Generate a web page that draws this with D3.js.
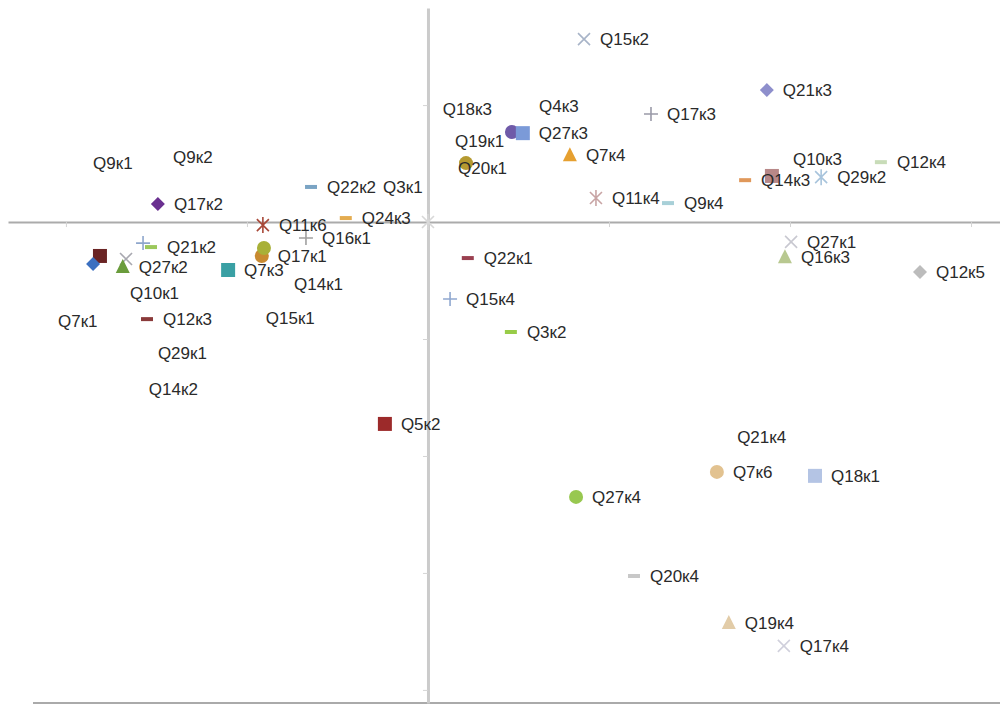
<!DOCTYPE html>
<html>
<head>
<meta charset="utf-8">
<script src="https://cdn.jsdelivr.net/npm/d3@7"></script>
<style>
  body { margin: 0; background: #fff; }
  text { font-family: "Liberation Sans", Arial, sans-serif; font-size: 17px; fill: #2a2a2a; }
</style>
</head>
<body>
<svg id="chart"></svg>
<script>
// point labels, coordinates (dimension 1, dimension 2)
const labels = [
  'Q15к2', 'Q21к3', 'Q17к3', 'Q18к3', 'Q4к3', '', 'Q27к3', 'Q7к4', '', 'Q19к1', 'Q20к1',
  'Q11к4', 'Q9к4', 'Q10к3', 'Q14к3', '', 'Q29к2', 'Q12к4', 'Q27к1', 'Q16к3', 'Q12к5',
  'Q22к1', 'Q15к4', 'Q3к2', 'Q5к2', 'Q27к4', 'Q21к4', 'Q7к6', 'Q18к1', 'Q20к4', 'Q19к4', 'Q17к4',
  'Q9к1', 'Q9к2', 'Q17к2', 'Q22к2', 'Q3к1', 'Q24к3', 'Q11к6', 'Q16к1', 'Q17к1', '',
  'Q7к3', 'Q14к1', 'Q15к1', '', 'Q21к2', '', 'Q27к2', '', '', 'Q10к1', 'Q7к1', 'Q12к3',
  'Q29к1', 'Q14к2', ''
]
const xVals = [
  0.431, 0.936, 0.616, 0.041, 0.307, 0.232, 0.262, 0.392, 0.105, 0.075, 0.083,
  0.464, 0.663, 1.008, 0.876, 0.950, 1.086, 1.251, 1.003, 0.986, 1.359,
  0.110, 0.061, 0.229, -0.119, 0.409, 0.854, 0.798, 1.069, 0.569, 0.831, 0.983,
  -0.925, -0.704, -0.746, -0.323, -0.124, -0.227, -0.456, -0.337, -0.459, -0.453,
  -0.552, -0.370, -0.448, -0.787, -0.765, -0.834, -0.843, -0.906, -0.925, -0.823, -1.022, -0.776,
  -0.746, -0.771, 0.0
]
const yVals = [
  0.782, 0.564, 0.462, 0.483, 0.496, 0.385, 0.380, 0.286, 0.252, 0.346, 0.231,
  0.103, 0.081, 0.269, 0.179, 0.197, 0.192, 0.256, -0.085, -0.150, -0.214,
  -0.154, -0.329, -0.470, -0.863, -1.175, -0.919, -1.068, -1.085, -1.513, -1.714, -1.812,
  0.252, 0.278, 0.077, 0.150, 0.150, 0.017, -0.013, -0.068, -0.145, -0.111,
  -0.205, -0.265, -0.410, -0.090, -0.107, -0.158, -0.192, -0.145, -0.179, -0.303, -0.423, -0.415,
  -0.560, -0.714, 0.0
]
const xTicks = [-1, -0.5, 0.5, 1, 1.5]
const yTicks = [-2, -1.5, -1, -0.5, 0.5]

// marker shape and colour for each point (style, not data)
const markerShapes = [
  'x', 'diamond', 'plus', 'none', 'none', 'circle', 'square', 'triangle', 'circle', 'none', 'none',
  'star', 'dash', 'none', 'dash', 'square', 'star', 'dash', 'x', 'triangle', 'diamond',
  'dash', 'plus', 'dash', 'square', 'circle', 'none', 'circle', 'square', 'dash', 'triangle', 'x',
  'none', 'none', 'diamond', 'dash', 'none', 'dash', 'star', 'plus', 'circle', 'circle',
  'square', 'none', 'none', 'plus', 'dash', 'x', 'triangle', 'square', 'diamond', 'none', 'none', 'dash',
  'none', 'none', 'star'
]
const markerColors = [
  '#a8b4c8', '#8e8fcc', '#9a9aa8', '', '', '#6f5aa8', '#7b9ad8', '#e6a030', '#b59a30', '', '',
  '#c8a4a4', '#a8d0d8', '', '#e0985a', '#b88888', '#a8c4dc', '#c8dcb8', '#c8c8d0', '#b8c890', '#bcbcbc',
  '#9a4050', '#90a8d0', '#98cc48', '#9c2a2a', '#98c850', '', '#e2c290', '#b4c4e4', '#c8c8c8', '#e2cca8', '#d0d0dc',
  '', '', '#6a3090', '#7aa4c4', '', '#e4ac50', '#a84838', '#a0a0a0', '#c88a30', '#a8b038',
  '#3aa0a4', '', '', '#8ea6cc', '#9cc85c', '#a8a8b0', '#6a9c3c', '#6a2424', '#3c70c0', '', '', '#8a3a3a',
  '', '', '#d8d8d8'
]

const width = 1000
const height = 704

const svg = d3.select('#chart').attr('width', width).attr('height', height)

const x = d3.scaleLinear().domain([-1.16, 1.58]).range([8, 1000])
const y = d3.scaleLinear().domain([-2.056, 0.915]).range([703, 8])

// bottom frame line
svg.append('line')
  .attr('x1', 33).attr('x2', 1000)
  .attr('y1', 703).attr('y2', 703)
  .attr('stroke', '#aaa').attr('stroke-width', 2)

// axes crossing at the origin
const xAxis = svg.append('g')
  .attr('transform', `translate(0,${y(0)})`)
  .call(d3.axisBottom(x).tickValues(xTicks).tickSize(5).tickSizeOuter(0).tickFormat(''))
xAxis.select('.domain').attr('stroke', '#ababab').attr('stroke-width', 2)
xAxis.selectAll('.tick line').attr('stroke', '#d4d4d4')

const yAxis = svg.append('g')
  .attr('transform', `translate(${x(0)},0)`)
  .call(d3.axisLeft(y).tickValues(yTicks).tickSize(5).tickSizeOuter(0).tickFormat(''))
yAxis.select('.domain').attr('stroke', '#cbcbcb').attr('stroke-width', 3)
yAxis.selectAll('.tick line').attr('stroke', '#d4d4d4')

const points = labels.map((label, i) => ({
  label, x: xVals[i], y: yVals[i], shape: markerShapes[i], color: markerColors[i]
}))

const shapePaths = {
  square: 'M-7,-7H7V7H-7Z',
  diamond: 'M0,-7L7,0L0,7L-7,0Z',
  triangle: 'M0,-8L7,6H-7Z',
  dash: 'M-6,-2H6V2H-6Z',
  plus: 'M-7,0H7M0,-7V7',
  x: 'M-6,-6L6,6M-6,6L6,-6',
  star: 'M-6,-6L6,6M-6,6L6,-6M0,-8V8'
}
const stroked = { plus: true, x: true, star: true }

const g = svg.append('g')

const marks = g.selectAll('g.pt')
  .data(points.filter((d) => d.shape !== 'none'))
  .enter()
  .append('g')
  .attr('class', 'pt')
  .attr('transform', (d) => `translate(${x(d.x)},${y(d.y)})`)

marks.each(function (d) {
  const m = d3.select(this)
  if (d.shape === 'circle') {
    m.append('circle').attr('r', 7).attr('fill', d.color)
  } else if (stroked[d.shape]) {
    m.append('path').attr('d', shapePaths[d.shape])
      .attr('fill', 'none').attr('stroke', d.color).attr('stroke-width', 1.6)
  } else {
    m.append('path').attr('d', shapePaths[d.shape]).attr('fill', d.color)
  }
})

g.selectAll('text')
  .data(points.filter((d) => d.label !== ''))
  .enter()
  .append('text')
  .attr('x', (d) => x(d.x) + (d.shape === 'none' ? 0 : 16))
  .attr('y', (d) => y(d.y))
  .attr('dy', '0.35em')
  .text((d) => d.label)
</script>
</body>
</html>
